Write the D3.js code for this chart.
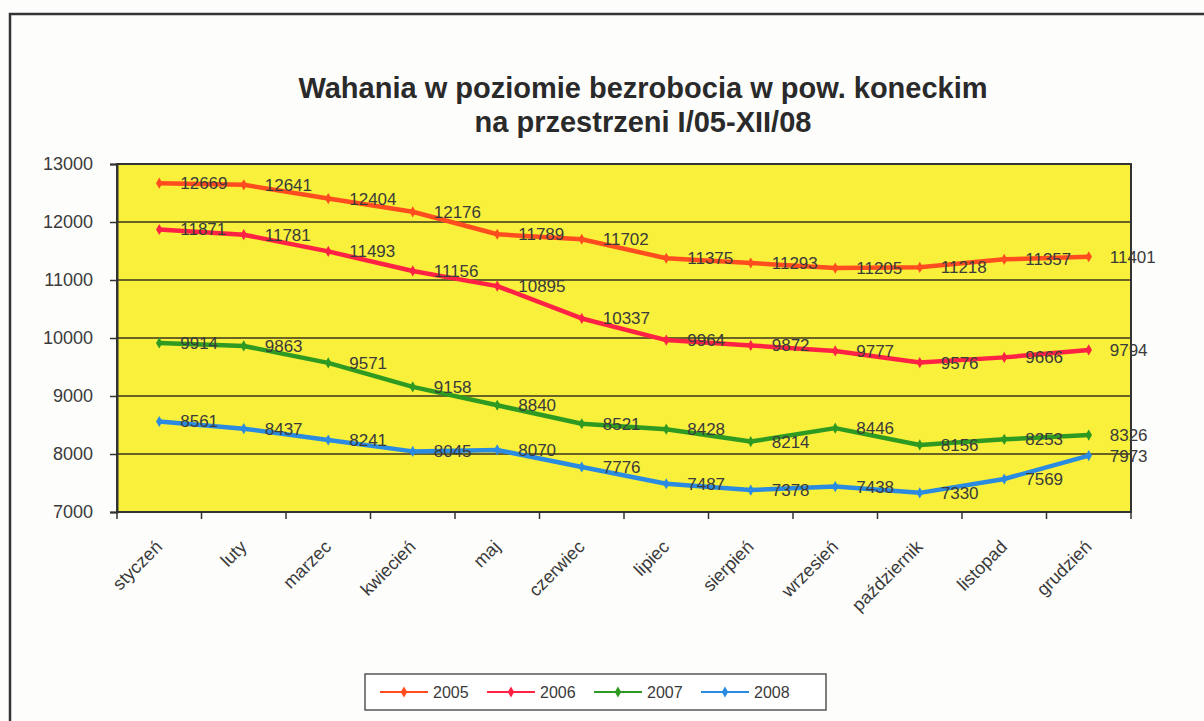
<!DOCTYPE html>
<html>
<head>
<meta charset="utf-8">
<script src="https://cdn.jsdelivr.net/npm/d3@7"></script>
<style>
  body { margin: 0; background: #fdfdfc; }
  svg { display: block; font-family: Arial, "Liberation Sans", sans-serif; }
</style>
</head>
<body>
<svg id="chart"></svg>
<script>
// months on the x axis
const months = ['styczeń', 'luty', 'marzec', 'kwiecień', 'maj', 'czerwiec',
  'lipiec', 'sierpień', 'wrzesień', 'październik', 'listopad', 'grudzień'];

// unemployed per month, one array per year
const y2005 = [12669, 12641, 12404, 12176, 11789, 11702, 11375, 11293, 11205, 11218, 11357, 11401];
const y2006 = [11871, 11781, 11493, 11156, 10895, 10337, 9964, 9872, 9777, 9576, 9666, 9794];
const y2007 = [9914, 9863, 9571, 9158, 8840, 8521, 8428, 8214, 8446, 8156, 8253, 8326];
const y2008 = [8561, 8437, 8241, 8045, 8070, 7776, 7487, 7378, 7438, 7330, 7569, 7973];

const years = ['2005', '2006', '2007', '2008'];
const yTicks = [7000, 8000, 9000, 10000, 11000, 12000, 13000];

const series = [
  {name: years[0], values: y2005, color: '#ff4d1f'},
  {name: years[1], values: y2006, color: '#ff2244'},
  {name: years[2], values: y2007, color: '#2f9a22'},
  {name: years[3], values: y2008, color: '#2b8be0'}
];

const config = {
  width: 1204,
  height: 721,
  margin: {top: 164, right: 73, bottom: 209, left: 117}
};

const svg = d3.select('#chart')
    .attr('width', config.width)
    .attr('height', config.height);

const width = config.width - config.margin.left - config.margin.right;
const height = config.height - config.margin.top - config.margin.bottom;

// outer chart frame (runs off the page on the right and bottom)
svg.append('rect')
    .attr('x', 10).attr('y', 14)
    .attr('width', 1210).attr('height', 740)
    .attr('fill', 'none')
    .attr('stroke', '#333')
    .attr('stroke-width', 2.5);

// title
const title = svg.append('text')
    .attr('text-anchor', 'middle')
    .attr('font-size', 29)
    .attr('font-weight', 'bold')
    .attr('fill', '#2a2a2a');
title.append('tspan').attr('x', 643).attr('y', 98).text('Wahania w poziomie bezrobocia w pow. koneckim');
title.append('tspan').attr('x', 643).attr('y', 132).text('na przestrzeni I/05-XII/08');

const chart = svg.append('g')
    .attr('transform', `translate(${config.margin.left},${config.margin.top})`);

const xScale = d3.scaleBand()
    .domain(months)
    .range([0, width]);

const yScale = d3.scaleLinear()
    .domain([d3.min(yTicks), d3.max(yTicks)])
    .range([height, 0]);

// plot area
chart.append('rect')
    .attr('width', width)
    .attr('height', height)
    .attr('fill', '#f8f03a');

// gridlines
chart.append('g')
    .selectAll('line')
    .data(yTicks.slice(1, -1))
  .join('line')
    .attr('x1', 0).attr('x2', width)
    .attr('y1', d => yScale(d)).attr('y2', d => yScale(d))
    .attr('stroke', '#3a3520')
    .attr('stroke-width', 1.3);

chart.append('rect')
    .attr('width', width)
    .attr('height', height)
    .attr('fill', 'none')
    .attr('stroke', '#333')
    .attr('stroke-width', 2);

// y axis
const yAxis = d3.axisLeft(yScale)
    .tickValues(yTicks)
    .tickSize(7)
    .tickFormat(d3.format('d'));

const yAxisG = chart.append('g').call(yAxis);
yAxisG.select('.domain').attr('stroke', '#333').attr('stroke-width', 2);
yAxisG.selectAll('.tick line').attr('stroke', '#333').attr('stroke-width', 1.5);
yAxisG.selectAll('.tick text')
    .attr('font-size', 18)
    .attr('fill', '#3a3a3a')
    .attr('x', -24);

// x axis: ticks on band boundaries
const xAxisG = chart.append('g')
    .attr('transform', `translate(0,${height})`);

xAxisG.selectAll('.xtick')
    .data(months.concat(['end']))
  .join('line')
    .attr('class', 'xtick')
    .attr('x1', (d, i) => i * xScale.step())
    .attr('x2', (d, i) => i * xScale.step())
    .attr('y1', 0).attr('y2', 7)
    .attr('stroke', '#333')
    .attr('stroke-width', 1.5);

xAxisG.selectAll('.xlabel')
    .data(months)
  .join('text')
    .attr('class', 'xlabel')
    .attr('text-anchor', 'end')
    .attr('font-size', 18)
    .attr('fill', '#3a3a3a')
    .attr('transform', d => `translate(${xScale(d) + xScale.bandwidth() / 2 + 4},${36}) rotate(-45)`)
    .text(d => d);

// lines
const line = d3.line()
    .x((d, i) => xScale(months[i]) + xScale.bandwidth() / 2)
    .y(d => yScale(d));

const diamond = d3.symbol().type(d3.symbolDiamond).size(36);

series.forEach(s => {
  const g = chart.append('g');

  g.append('path')
      .datum(s.values)
      .attr('fill', 'none')
      .attr('stroke', s.color)
      .attr('stroke-width', 4.5)
      .attr('stroke-linejoin', 'round')
      .attr('d', line);

  g.selectAll('path.marker')
      .data(s.values)
    .join('path')
      .attr('class', 'marker')
      .attr('d', diamond)
      .attr('fill', s.color)
      .attr('transform', (d, i) => `translate(${xScale(months[i]) + xScale.bandwidth() / 2},${yScale(d)})`);

  g.selectAll('text')
      .data(s.values)
    .join('text')
      .attr('x', (d, i) => xScale(months[i]) + xScale.bandwidth() / 2 + 21)
      .attr('y', d => yScale(d) + 6)
      .attr('font-size', 17)
      .attr('fill', '#3a3a3a')
      .text(d => d);
});

// legend
const legend = svg.append('g').attr('transform', 'translate(365,674)');
legend.append('rect')
    .attr('width', 461).attr('height', 36)
    .attr('fill', '#fff')
    .attr('stroke', '#555')
    .attr('stroke-width', 1.5);

const legendItems = legend.selectAll('g')
    .data(series)
  .join('g')
    .attr('transform', (d, i) => `translate(15,18) translate(${i * 107},0)`);

legendItems.append('line')
    .attr('x1', 0).attr('x2', 48)
    .attr('stroke', d => d.color)
    .attr('stroke-width', 2);

legendItems.append('path')
    .attr('d', diamond)
    .attr('fill', d => d.color)
    .attr('transform', 'translate(24,0)');

legendItems.append('text')
    .attr('x', 53).attr('y', 6)
    .attr('font-size', 16)
    .attr('fill', '#3a3a3a')
    .text(d => d.name);
</script>
</body>
</html>
